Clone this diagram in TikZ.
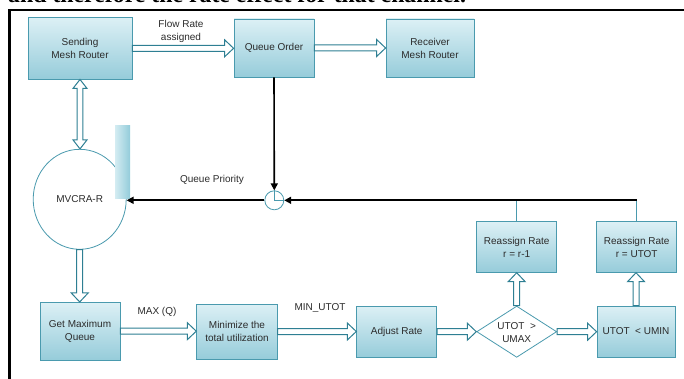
\documentclass[tikz,border=0pt]{standalone}
\usepackage{fontspec}
\setmainfont{Liberation Sans}
\newfontfamily\topserif{Liberation Serif}
\usetikzlibrary{shapes.geometric,arrows.meta,calc}
\definecolor{bordc}{HTML}{4A9AAE}
\definecolor{arrc}{HTML}{2E7F93}
\definecolor{boxtop}{HTML}{DCF0F5}
\definecolor{boxbot}{HTML}{96CCDA}
\definecolor{barl}{HTML}{D4ECF2}
\definecolor{barr}{HTML}{93CCDA}
\definecolor{txt}{HTML}{2B2B2B}
\tikzset{
  box/.style={draw=bordc, line width=0.8pt, top color=boxtop, bottom color=boxbot, text=txt, align=center, font=\fontsize{10}{13}\selectfont, inner sep=0pt},
  barrow/.style={draw=arrc, line width=1pt, fill=white, line join=miter},
  blk/.style={black, line width=1.6pt},
  blkarr/.style={blk, -{Triangle[length=7pt,width=7pt]}},
  lbl/.style={text=txt, align=center, font=\fontsize{10}{13}\selectfont, inner sep=0pt},
  thin/.style={draw=bordc, line width=0.8pt}
}
\newcommand\harr[2]{\draw[barrow] let \p1=(#1), \p2=(#2) in
  ({\x1},{\y1+3pt}) -- ({\x2-9pt},{\y1+3pt}) -- ({\x2-9pt},{\y1+8.5pt}) -- ({\x2},{\y1})
  -- ({\x2-9pt},{\y1-8.5pt}) -- ({\x2-9pt},{\y1-3pt}) -- ({\x1},{\y1-3pt}) -- cycle;}
\newcommand\uarr[2]{\draw[barrow] let \p1=(#1), \p2=(#2) in
  ({\x1-3pt},{\y1}) -- ({\x1-3pt},{\y2-9pt}) -- ({\x1-8.5pt},{\y2-9pt}) -- ({\x1},{\y2})
  -- ({\x1+8.5pt},{\y2-9pt}) -- ({\x1+3pt},{\y2-9pt}) -- ({\x1+3pt},{\y1}) -- cycle;}
\newcommand\darr[2]{\draw[barrow] let \p1=(#1), \p2=(#2) in
  ({\x1-3pt},{\y1}) -- ({\x1-3pt},{\y2+9pt}) -- ({\x1-8.5pt},{\y2+9pt}) -- ({\x1},{\y2})
  -- ({\x1+8.5pt},{\y2+9pt}) -- ({\x1+3pt},{\y2+9pt}) -- ({\x1+3pt},{\y1}) -- cycle;}
\newcommand\dvarr[2]{\draw[barrow] let \p1=(#1), \p2=(#2) in
  ({\x1},{\y1}) -- ({\x1+7pt},{\y1-9pt}) -- ({\x1+2.8pt},{\y1-9pt}) -- ({\x1+2.8pt},{\y2+9pt})
  -- ({\x1+7pt},{\y2+9pt}) -- ({\x1},{\y2}) -- ({\x1-7pt},{\y2+9pt}) -- ({\x1-2.8pt},{\y2+9pt})
  -- ({\x1-2.8pt},{\y1-9pt}) -- ({\x1-7pt},{\y1-9pt}) -- cycle;}
\begin{document}
\begin{tikzpicture}[x=1pt,y=-1pt]
\useasboundingbox (0,0) rectangle (684,379);
\begin{scope}
\clip (0,0) rectangle (684,379);
\node[anchor=base west, inner sep=0pt, font=\topserif\bfseries\fontsize{23.8}{26}\selectfont] (toptext) at (8,2.8) {and therefore the rate effect for that channel.};
\draw[line width=2.6pt] (9.7,385) -- (9.7,10.2) -- (690,10.2);
\end{scope}

% top row
\node[box, minimum width=104pt, minimum height=61.5pt] (send) at (80,48.3) {Sending\\Mesh Router};
\node[box, minimum width=80pt, minimum height=58pt] (qo) at (274,48) {Queue Order};
\node[box, minimum width=88pt, minimum height=58pt] (recv) at (430,48) {Receiver\\Mesh Router};

% middle
\node[ellipse, draw=bordc, line width=0.8pt, fill=white, minimum width=93pt, minimum height=100pt, inner sep=0pt, text=txt, font=\fontsize{10}{13}\selectfont] (mv) at (79.7,199.3) {MVCRA-R};
\node[rectangle, inner sep=0pt, minimum width=15pt, minimum height=72.7pt, left color=barl, right color=barr] (bar) at (122.5,162.35) {};
\node[circle, draw=bordc, line width=0.8pt, fill=white, minimum size=19pt, inner sep=0pt] (jn) at (274.3,200.3) {};

\node[box, minimum width=80pt, minimum height=50.6pt] (r1) at (516.7,247) {Reassign Rate\\r = r-1};
\node[box, minimum width=80pt, minimum height=50.6pt] (r2) at (636.7,247) {Reassign Rate\\r = UTOT};

% bottom row
\node[box, minimum width=80pt, minimum height=57.7pt] (gmq) at (80,331.2) {Get Maximum\\Queue};
\node[box, minimum width=80.6pt, minimum height=55pt] (minu) at (237,331.5) {Minimize the\\total utilization};
\node[box, minimum width=80pt, minimum height=51.3pt] (adj) at (396.7,331.7) {Adjust Rate};
\node[diamond, draw=bordc, line width=0.8pt, fill=white, minimum width=80pt, minimum height=51.3pt, inner sep=0pt] (dia) at (516.7,331.7) {};
\node[lbl] (dialbl) at (516.7,333) {UTOT~ >\\UMAX};
\node[box, minimum width=78pt, minimum height=51pt] (umin) at (636,331.5) {UTOT~ < UMIN};

% labels
\node[lbl] (fr) at (181,31) {Flow Rate\\assigned};
\node[lbl] (qp) at (212,180) {Queue Priority};
\node[lbl] (mq) at (157,311.7) {MAX (Q)};
\node[lbl] (mu) at (320,308) {MIN\_UTOT};

% block arrows
\harr{send.east}{qo.west}
\harr{qo.east}{recv.west}
\dvarr{send.south}{mv.north}
\darr{mv.south}{gmq.north}
\harr{gmq.east}{minu.west}
\harr{minu.east}{adj.west}
\harr{adj.east}{dia.west}
\harr{dia.east}{umin.west}
\uarr{dia.north}{r1.south}
\uarr{umin.north}{r2.south}

% thin lines
\draw[thin] (r1.north) -- (r1.north |- jn.east);
\draw[thin] (r2.north) -- (r2.north |- jn.east);
\draw[blkarr] (qo.south) -- (jn.north);
\draw[blkarr] (r2.north |- jn.east) -- (jn.east);
\draw[blkarr] (jn.west) -- (jn.west -| mv.east);
\draw[thin] (jn.north) -- (jn.center) -- (jn.east);
\end{tikzpicture}
\end{document}
